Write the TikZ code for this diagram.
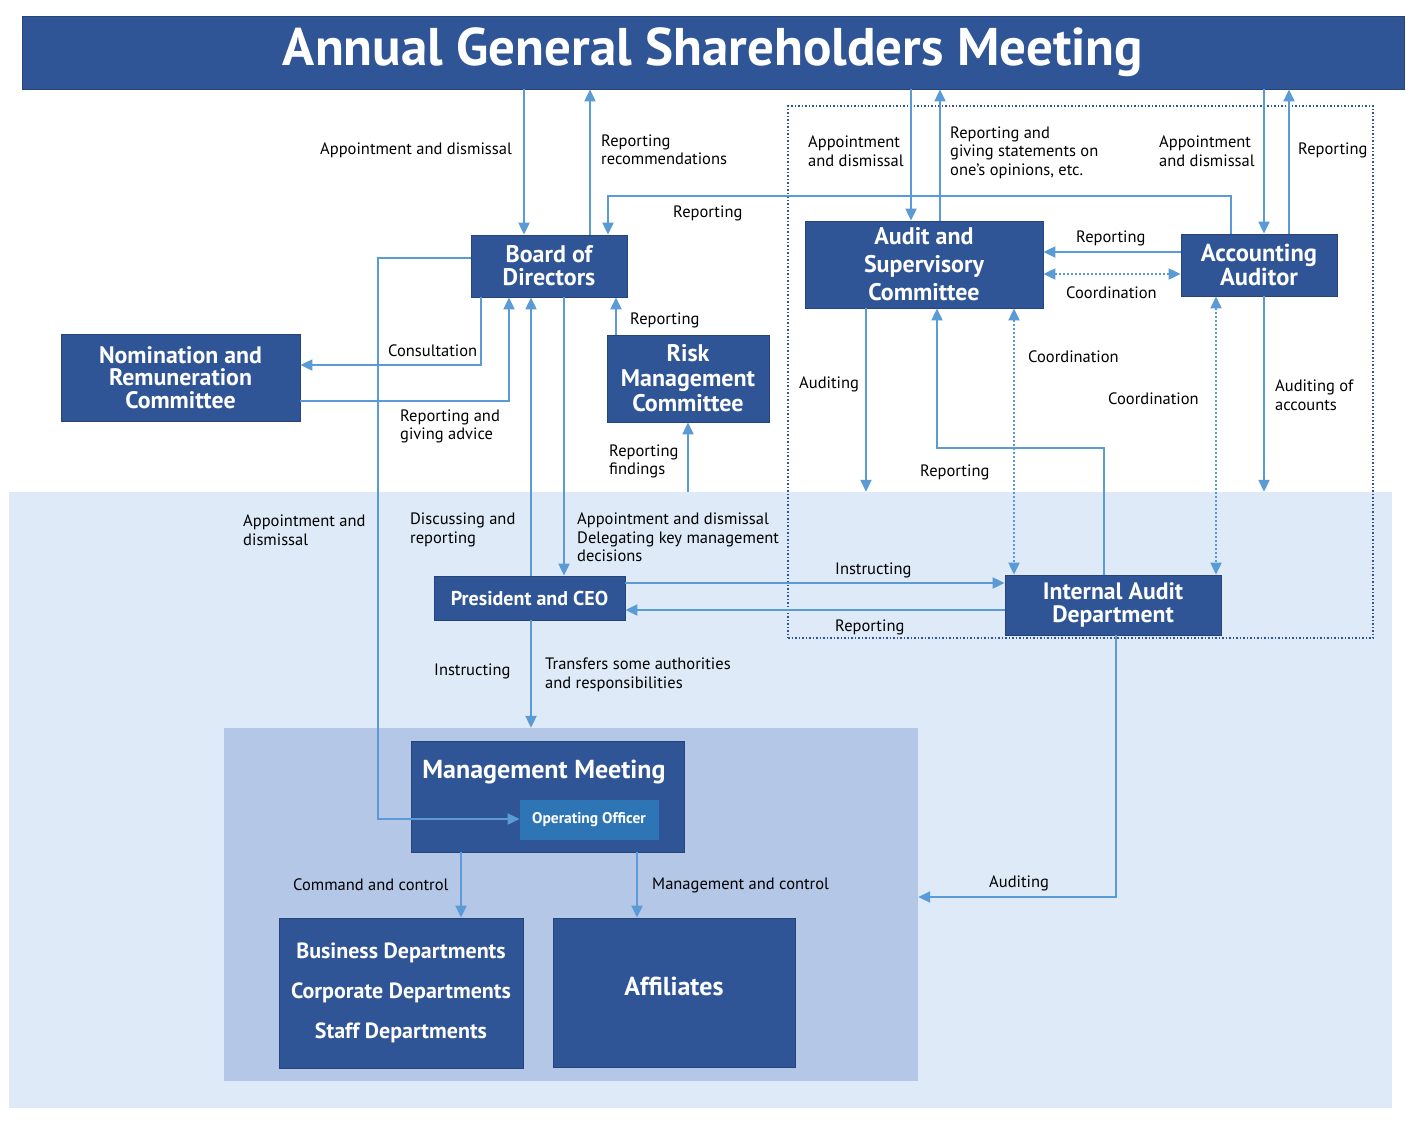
\documentclass[tikz,border=0pt]{standalone}
\usepackage{fontspec}
\setmainfont{PT Sans}
\setsansfont{PT Sans}
\usetikzlibrary{arrows.meta, positioning, calc}
\definecolor{orgnavy}{RGB}{47, 85, 151}
\definecolor{orgline}{RGB}{91, 155, 213}
\definecolor{orgpale}{RGB}{222, 234, 247}
\definecolor{orgmid}{RGB}{180, 199, 231}
\definecolor{orgoffice}{RGB}{46, 117, 182}
\tikzset{
  obox/.style={
    rectangle, draw=orgnavy!80!black, line width=0.8pt,
    fill=orgnavy, text=white, align=center,
    font=\bfseries\fontsize{24}{23}\selectfont, inner sep=0pt
  },
  btxt/.style={
    text=white, align=center, inner sep=0pt,
    font=\bfseries\fontsize{26}{28}\selectfont
  },
  lbl/.style={
    anchor=west, align=left, inner sep=0pt,
    font=\fontsize{16.5}{18.5}\selectfont
  },
  area/.style={rectangle, draw=none, inner sep=0pt},
  conn/.style={-{Triangle[length=12pt, width=11pt]}, line width=2pt, draw=orgline},
  dconn/.style={{Triangle[length=12pt, width=11pt]}-{Triangle[length=12pt, width=11pt]},
    line width=2pt, draw=orgline, dash pattern=on 2pt off 2pt},
}

\begin{document}
\begin{tikzpicture}[x=1pt, y=-1pt]
  \useasboundingbox (0,0) rectangle (1420,1122);
  % background zones
  \node[area, fill=orgpale, minimum width=1383pt, minimum height=616pt] (palearea) at (700.5,800) {};
  \node[area, fill=orgmid, minimum width=694pt, minimum height=353pt] (midarea) at (571,904.5) {};
  \node[area, draw=orgnavy, line width=1.5pt, dash pattern=on 1.5pt off 2pt,
    minimum width=585pt, minimum height=532pt] (auditzone) at (1080.5,372) {};

  % boxes
  \node[obox, minimum width=1382pt, minimum height=73pt, font=\bfseries\fontsize{53}{56}\selectfont]
    (agm) at (713,52.5) {Annual General Shareholders Meeting};
  \node[obox, minimum width=156pt, minimum height=62pt] (board) at (549,266) {Board of\\Directors};
  \node[obox, minimum width=238pt, minimum height=87pt, font=\bfseries\fontsize{24}{28}\selectfont]
    (audsup) at (924,264.5) {Audit and\\Supervisory\\Committee};
  \node[obox, minimum width=156pt, minimum height=62pt, font=\bfseries\fontsize{24.5}{22.5}\selectfont]
    (accaud) at (1259,265) {Accounting\\Auditor};
  \node[obox, minimum width=239pt, minimum height=87pt, font=\bfseries\fontsize{23.8}{22.5}\selectfont]
    (nomcom) at (180.5,377.5) {Nomination and\\Remuneration\\Committee};
  \node[obox, minimum width=162pt, minimum height=87pt, font=\bfseries\fontsize{24}{25}\selectfont]
    (riskcom) at (688,378.5) {Risk\\Management\\Committee};
  \node[obox, minimum width=191pt, minimum height=44pt, font=\bfseries\fontsize{20}{22}\selectfont]
    (pres) at (529.5,598) {President and CEO};
  \node[obox, minimum width=216pt, minimum height=60pt, font=\bfseries\fontsize{23.7}{23}\selectfont]
    (intaud) at (1113,605) {Internal Audit\\Department};
  \node[obox, minimum width=273pt, minimum height=111pt] (mgmt) at (547.5,796.5) {};
  \node[btxt] (mgmttitle) at (544,772) {Management Meeting};
  \node[obox, fill=orgoffice, draw=orgoffice, minimum width=138pt, minimum height=39pt,
    font=\bfseries\fontsize{15.5}{17}\selectfont] (opoff) at (589,819.5) {Operating Officer};
  \node[obox, minimum width=244pt, minimum height=150pt, font=\bfseries\fontsize{22}{40}\selectfont]
    (depts) at (401,993) {Business Departments\\Corporate Departments\\Staff Departments};
  \node[obox, minimum width=242pt, minimum height=149pt, font=\bfseries\fontsize{26}{28}\selectfont]
    (affil) at (674,992.5) {\raisebox{12pt}{Affiliates}};

  % connectors
  \draw[conn] (agm.south -| 524,0) -- (board.north -| 524,0);
  \draw[conn] (board.north -| 590,0) -- (agm.south -| 590,0);
  \draw[conn] (accaud.north -| 1231,0) -- ++(0,-38) -| (board.north -| 608,0);
  \draw[conn] (agm.south -| 911,0) -- (audsup.north -| 911,0);
  \draw[conn] (audsup.north -| 940,0) -- (agm.south -| 940,0);
  \draw[conn] (agm.south -| 1264,0) -- (accaud.north -| 1264,0);
  \draw[conn] (accaud.north -| 1289,0) -- (agm.south -| 1289,0);
  \draw[conn] (accaud.west |- 0,252) -- (audsup.east |- 0,252);
  \draw[dconn] (audsup.east |- 0,274) -- (accaud.west |- 0,274);
  \draw[conn] (board.south -| 481,0) |- (nomcom.east |- 0,365);
  \draw[conn] (nomcom.east |- 0,401) -| (board.south -| 509,0);
  \draw[conn] (board.west |- 0,258) -- (378,258) |- (opoff.west |- 0,819);
  \draw[conn] (pres.north -| 531,0) -- (board.south -| 531,0);
  \draw[conn] (board.south -| 564,0) -- (pres.north -| 564,0);
  \draw[conn] (riskcom.north -| 616,0) -- (board.south -| 616,0);
  \draw[conn] (palearea.north -| 688,0) -- (riskcom.south -| 688,0);
  \draw[conn] (audsup.south -| 866,0) -- (palearea.north -| 866,0);
  \draw[conn] (intaud.north -| 1104,0) -- ++(0,-127) -| (audsup.south -| 937,0);
  \draw[dconn] (audsup.south -| 1014,0) -- (intaud.north -| 1014,0);
  \draw[dconn] (accaud.south -| 1216,0) -- (intaud.north -| 1216,0);
  \draw[conn] (accaud.south -| 1264,0) -- (palearea.north -| 1264,0);
  \draw[conn] (pres.east |- 0,583) -- (intaud.west |- 0,583);
  \draw[conn] (intaud.west |- 0,610) -- (pres.east |- 0,610);
  \draw[conn] (pres.south -| 531,0) -- (midarea.north -| 531,0);
  \draw[conn] (mgmt.south -| 461,0) -- (depts.north -| 461,0);
  \draw[conn] (mgmt.south -| 637,0) -- (affil.north -| 637,0);
  \draw[conn] (intaud.south -| 1116,0) |- (midarea.east |- 0,897);

  % labels
  \node[lbl] (lblagmboard) at (320,150) {Appointment and dismissal};
  \node[lbl] (lblboardagm) at (601,150) {Reporting\\recommendations};
  \node[lbl] (lblaccboard) at (673,213) {Reporting};
  \node[lbl] (lblagmaud) at (808,151) {Appointment\\and dismissal};
  \node[lbl] (lblaudagm) at (950,152.5) {Reporting and\\giving statements on\\one’s opinions, etc.};
  \node[lbl] (lblagmacc) at (1159,151) {Appointment\\and dismissal};
  \node[lbl] (lblaccagm) at (1298,150) {Reporting};
  \node[lbl] (lblaccaud) at (1076,238) {Reporting};
  \node[lbl] (lblcoorda) at (1066,293) {Coordination};
  \node[lbl] (lblconsult) at (388,351) {Consultation};
  \node[lbl] (lbladvice) at (400,426.5) {Reporting and\\giving advice};
  \node[lbl] (lblriskboard) at (630,320) {Reporting};
  \node[lbl] (lblfindings) at (609,461.5) {Reporting\\findings};
  \node[lbl] (lblauditing) at (799,384) {Auditing};
  \node[lbl] (lblcoordb) at (1028,357) {Coordination};
  \node[lbl] (lblcoordc) at (1108,399) {Coordination};
  \node[lbl] (lblaccounts) at (1275,395) {Auditing of\\accounts};
  \node[lbl] (lblintaud) at (920,472) {Reporting};
  \node[lbl] (lbloffappt) at (243,530) {Appointment and\\dismissal};
  \node[lbl] (lbldiscuss) at (410,530) {Discussing and\\reporting};
  \node[lbl] (lbldelegate) at (577,537.5) {Appointment and dismissal\\Delegating key management\\decisions};
  \node[lbl] (lblinstructa) at (835,570) {Instructing};
  \node[lbl] (lblreportb) at (835,627) {Reporting};
  \node[lbl] (lblinstructb) at (434,671) {Instructing};
  \node[lbl] (lbltransfer) at (545,675) {Transfers some authorities\\and responsibilities};
  \node[lbl] (lblcommand) at (293,885) {Command and control};
  \node[lbl] (lblmanage) at (652,885) {Management and control};
  \node[lbl] (lblauditc) at (989,883) {Auditing};
\end{tikzpicture}
\end{document}
